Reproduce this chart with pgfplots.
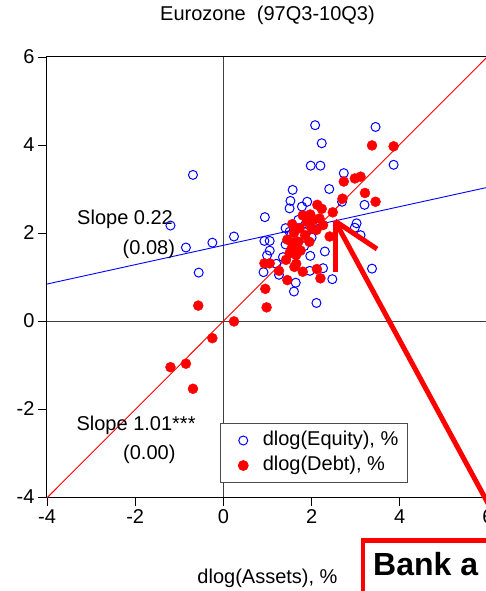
\documentclass[border=0pt]{standalone}
\usepackage{fontspec}
\setmainfont{Liberation Sans}
\usepackage{pgfplots}
\pgfplotsset{compat=1.18}

% dlog(Equity), %  vs  dlog(Assets), %
\pgfplotstableread{
x y
-1.20 2.17
-0.85 1.67
-0.69 3.32
-0.25 1.78
0.24 1.92
-0.56 1.10
2.08 4.45
3.45 4.41
2.23 4.04
1.98 3.53
2.20 3.53
3.86 3.55
2.73 3.36
1.57 2.98
2.40 3.00
1.52 2.73
1.90 2.71
1.50 2.56
1.78 2.60
2.69 2.71
3.20 2.64
0.94 2.36
1.41 2.11
3.02 2.22
2.98 2.12
3.11 1.95
0.93 1.82
1.05 1.82
1.41 1.74
1.83 1.70
2.30 1.58
1.97 1.48
0.99 1.49
0.91 1.11
1.26 1.05
3.37 1.19
2.26 1.20
1.96 1.14
2.47 0.95
1.64 0.87
1.60 0.67
2.11 0.41
1.50 2.03
1.54 1.96
1.70 2.30
1.20 1.30
1.05 1.60
1.35 1.45
1.75 1.95
2.00 1.90
1.60 1.55
1.90 2.20
}\equity

% dlog(Debt), %  vs  dlog(Assets), %
\pgfplotstableread{
x y
-0.57 0.35
0.24 -0.01
-0.25 -0.39
-1.20 -1.05
-0.85 -0.97
-0.69 -1.54
3.37 3.99
3.86 3.97
2.73 3.17
2.98 3.24
3.11 3.28
3.21 2.91
3.45 2.71
2.70 2.78
2.13 2.64
2.23 2.55
2.48 2.47
1.97 2.42
2.18 2.33
1.56 2.20
2.26 2.18
1.73 2.11
2.11 2.07
2.41 1.92
1.58 1.77
1.95 1.80
1.50 1.54
1.65 1.50
1.42 1.39
0.93 1.31
1.05 1.31
1.26 1.14
1.61 1.23
1.80 1.12
2.12 1.18
2.20 0.97
1.45 0.93
0.95 0.73
0.98 0.31
1.60 2.00
1.70 1.80
1.85 1.95
1.55 1.65
1.75 1.60
1.90 2.25
2.05 2.30
1.45 1.85
1.80 2.40
2.00 2.10
1.65 1.30
}\debt

\begin{document}
\begin{tikzpicture}[font=\fontsize{20bp}{24bp}\selectfont]
\begin{axis}[
    at={(0,0)}, anchor=south west,
    scale only axis, width=441bp, height=440bp,
    xmin=-4, xmax=6, ymin=-4, ymax=6,
    xtick={-4,-2,...,6}, ytick={-4,-2,...,6},
    tick pos=left, tick align=outside,
    major tick length=9bp,
    tick style={black, line width=0.8bp},
    axis line style={line width=1bp},
    /pgf/number format/assume math mode=true,
    ticklabel style={font=\fontsize{20bp}{24bp}\selectfont},
    title={Eurozone\ \ (97Q3-10Q3)},
    title style={at={(0.5,1)}, anchor=center, yshift=36bp},
    xlabel={dlog(Assets), \%},
    xlabel style={at={(axis description cs:0.5,0)}, anchor=center, yshift=-81bp},
    legend style={at={(0.392,0.032)}, anchor=south west,
        draw=black!70, line width=0.8bp,
        font=\fontsize{20bp}{24bp}\selectfont,
        inner xsep=8bp, inner ysep=6bp, row sep=3bp,
        nodes={inner sep=1.5bp, text height=14.5bp, text depth=4.5bp}},
    legend cell align=left,
    legend image code/.code={
        \path (0bp,0bp) (32bp,0bp);
        \draw[#1] plot coordinates {(14.5bp,0bp)};},
]
\addplot[forget plot, black!75, line width=0.8bp] coordinates {(0,-4) (0,6)};
\addplot[forget plot, black!75, line width=0.8bp] coordinates {(-4,0) (6,0)};
\addplot[only marks, mark=o, mark size=4.5bp, blue, line width=1bp] table {\equity};
\addlegendentry{dlog(Equity), \%}
\addplot[only marks, mark=*, mark size=5bp, red, fill=red] table {\debt};
\addlegendentry{dlog(Debt), \%}
\addplot[forget plot, blue, line width=0.9bp] coordinates {(-4,0.84) (6,3.04)};
\addplot[forget plot, red, line width=0.9bp] coordinates {(-4,-4.02) (6,6.02)};
\node at (axis cs:-2.23,2.30) {Slope 0.22};
\node at (axis cs:-1.69,1.64) {(0.08)};
\node at (axis cs:-1.98,-2.38) {Slope 1.01***};
\node at (axis cs:-1.68,-3.02) {(0.00)};
\end{axis}
% annotation overlay
\draw[red, line width=5bp] (288bp,276bp) -- (288bp,225bp);
\draw[red, line width=5bp] (288bp,276bp) -- (330bp,248bp);
\draw[red, line width=5bp] (288bp,276bp) -- (476bp,-71bp);
\draw[red, line width=4.3bp, fill=white] (316bp,-43.5bp) rectangle (560bp,-140bp);
\node[anchor=base west, inner sep=0pt, font=\fontsize{32bp}{36bp}\selectfont\bfseries] at (326bp,-78bp) {Bank a};
\pgfresetboundingbox
\useasboundingbox (-47bp,-94bp) rectangle (439bp,497bp);
\end{tikzpicture}
\end{document}
